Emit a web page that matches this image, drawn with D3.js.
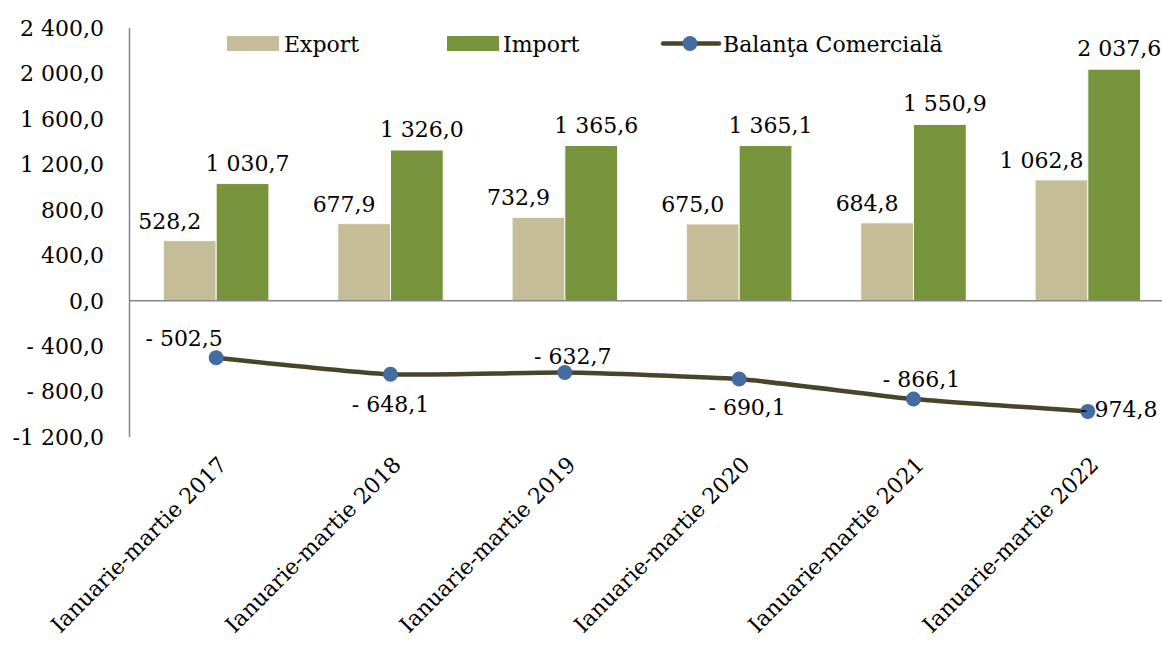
<!DOCTYPE html>
<html>
<head>
<meta charset="utf-8">
<script src="https://cdn.jsdelivr.net/npm/d3@7"></script>
<style>
  body { margin: 0; background: #fff; }
  text { font-family: "DejaVu Serif", serif; fill: #000; }
</style>
</head>
<body>
<script>
// data
var categories = ["Ianuarie-martie 2017", "Ianuarie-martie 2018", "Ianuarie-martie 2019",
  "Ianuarie-martie 2020", "Ianuarie-martie 2021", "Ianuarie-martie 2022"]
var exportVals = [528.2, 677.9, 732.9, 675.0, 684.8, 1062.8]
var importVals = [1030.7, 1326.0, 1365.6, 1365.1, 1550.9, 2037.6]
var balanta = [-502.5, -648.1, -632.7, -690.1, -866.1, -974.8]
var yTicks = [-1200, -800, -400, 0, 400, 800, 1200, 1600, 2000, 2400]
var yTickLabels = ["-1 200,0", "- 800,0", "- 400,0", "0,0", "400,0", "800,0",
  "1 200,0", "1 600,0", "2 000,0", "2 400,0"]

// where each balance label sits relative to its marker
var balLabelOffset = [[-32, -12], [0, 38], [8, -9], [8, 36], [8, -12], [31, 6]]

var width = 1162
var height = 645
var colExport = "#c4bd97"
var colImport = "#77933c"
var colLine = "#4a4429"
var colDot = "#446ca3"

function fmt(v) {
  var a = Math.abs(v)
  var s = d3.format(",.1f")(a).replace(/,/g, " ").replace(".", ",")
  return v < 0 ? "- " + s : s
}

var svg = d3.select("body").append("svg")
  .attr("width", width)
  .attr("height", height)

var x = d3.scaleBand().domain(categories).range([129, 1175])
  .paddingInner(0.395).paddingOuter(0.1975)
var xs = d3.scaleBand().domain(["e", "i"]).range([0, x.bandwidth()])
var y = d3.scaleLinear().domain([-1200, 2400]).range([437, 28])

// y axis labels
svg.append("g").selectAll("text")
  .data(yTicks)
  .enter().append("text")
  .attr("x", 104)
  .attr("y", function(d) { return y(d) })
  .attr("dy", "0.36em")
  .attr("text-anchor", "end")
  .style("font-size", "22px")
  .text(function(d, i) { return yTickLabels[i] })

// bars
var g = svg.append("g")
g.selectAll(".exp")
  .data(exportVals)
  .enter().append("rect")
  .attr("x", function(d, i) { return x(categories[i]) + xs("e") })
  .attr("width", xs.bandwidth())
  .attr("y", function(d) { return y(d) })
  .attr("height", function(d) { return y(0) - y(d) })
  .attr("fill", colExport)
  .attr("stroke", "#fafaf5").attr("stroke-width", 1)

g.selectAll(".imp")
  .data(importVals)
  .enter().append("rect")
  .attr("x", function(d, i) { return x(categories[i]) + xs("i") })
  .attr("width", xs.bandwidth())
  .attr("y", function(d) { return y(d) })
  .attr("height", function(d) { return y(0) - y(d) })
  .attr("fill", colImport)
  .attr("stroke", "#fafaf5").attr("stroke-width", 1)

// bar labels
svg.append("g").selectAll("text")
  .data(exportVals)
  .enter().append("text")
  .attr("x", function(d, i) { return x(categories[i]) + xs("e") + xs.bandwidth() / 2 - 20 })
  .attr("y", function(d) { return y(d) - 12 })
  .attr("text-anchor", "middle")
  .style("font-size", "22px")
  .text(function(d) { return fmt(d) })

svg.append("g").selectAll("text")
  .data(importVals)
  .enter().append("text")
  .attr("x", function(d, i) { return x(categories[i]) + xs("i") + xs.bandwidth() / 2 + 5 })
  .attr("y", function(d) { return y(d) - 13 })
  .attr("text-anchor", "middle")
  .style("font-size", "22px")
  .text(function(d) { return fmt(d) })

// axes lines
svg.append("line")
  .attr("x1", 129.5).attr("x2", 129.5)
  .attr("y1", y(2400)).attr("y2", y(-1200))
  .attr("stroke", "#868686").attr("stroke-width", 1.5)
svg.append("line")
  .attr("x1", 129).attr("x2", width)
  .attr("y1", y(0)).attr("y2", y(0))
  .attr("stroke", "#868686").attr("stroke-width", 1.5)

// balance line
var cx = function(i) { return x(categories[i]) + x.bandwidth() / 2 }
var line = d3.line()
  .x(function(d, i) { return cx(i) })
  .y(function(d) { return y(d) })
  .curve(d3.curveCardinal.tension(0.5))
svg.append("path")
  .datum(balanta)
  .attr("d", line)
  .attr("fill", "none")
  .attr("stroke", colLine)
  .attr("stroke-width", 4.5)

svg.append("g").selectAll("circle")
  .data(balanta)
  .enter().append("circle")
  .attr("cx", function(d, i) { return cx(i) })
  .attr("cy", function(d) { return y(d) })
  .attr("r", 7.5)
  .attr("fill", colDot)

svg.append("g").selectAll("text")
  .data(balanta)
  .enter().append("text")
  .attr("x", function(d, i) { return cx(i) + balLabelOffset[i][0] })
  .attr("y", function(d, i) { return y(d) + balLabelOffset[i][1] })
  .attr("text-anchor", "middle")
  .style("font-size", "22px")
  .text(function(d) { return fmt(d) })

// category labels
svg.append("g").selectAll("text")
  .data(categories)
  .enter().append("text")
  .attr("transform", function(d, i) { return "translate(" + (cx(i) + 12) + ",466) rotate(-45)" })
  .attr("text-anchor", "end")
  .style("font-size", "22px")
  .text(function(d) { return d })

// legend
var leg = svg.append("g")
leg.append("rect").attr("x", 227).attr("y", 36).attr("width", 52).attr("height", 15).attr("fill", colExport)
leg.append("text").attr("x", 284).attr("y", 52).style("font-size", "22px").text("Export")
leg.append("rect").attr("x", 447).attr("y", 36).attr("width", 52).attr("height", 15).attr("fill", colImport)
leg.append("text").attr("x", 503).attr("y", 52).style("font-size", "22px").text("Import")
leg.append("line").attr("x1", 663).attr("x2", 719).attr("y1", 43.5).attr("y2", 43.5)
  .attr("stroke", colLine).attr("stroke-width", 4.5).attr("stroke-linecap", "round")
leg.append("circle").attr("cx", 690).attr("cy", 43.5).attr("r", 7.5).attr("fill", colDot)
leg.append("text").attr("x", 723).attr("y", 52).style("font-size", "22px").text("Balanţa Comercială")
</script>
</body>
</html>
